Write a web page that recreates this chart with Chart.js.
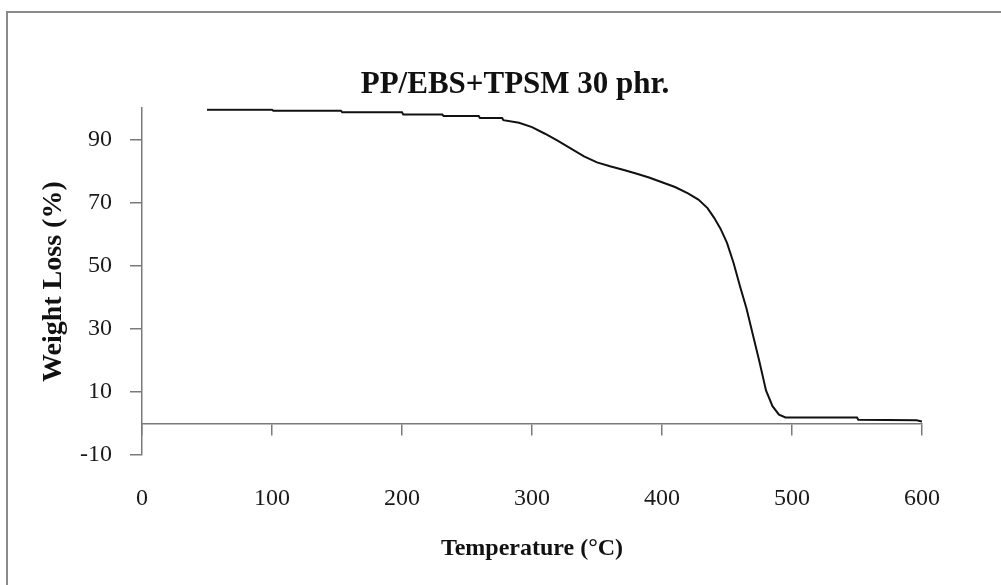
<!DOCTYPE html>
<html>
<head>
<meta charset="utf-8">
<script src="https://cdn.jsdelivr.net/npm/chart.js@4.4.1/dist/chart.umd.min.js"></script>
<style>
  html, body { margin: 0; padding: 0; background: #ffffff; }
  #wrap { position: relative; width: 1001px; height: 585px; }
  #frame { position: absolute; left: 6px; top: 11px; right: 0; bottom: 0;
           border-top: 2px solid #8a8a8a; border-left: 2px solid #8a8a8a; pointer-events: none; }
  canvas { position: absolute; left: 0; top: 0; }
</style>
</head>
<body>
<div id="wrap">
  <canvas id="c" width="1001" height="585"></canvas>
  <div id="frame"></div>
</div>
<script>
// ---- data ----
const chartTitle = "PP/EBS+TPSM 30 phr.";
const xTitle = "Temperature (\u00B0C)";
const yTitle = "Weight Loss (%)";
const xTicks = [0, 100, 200, 300, 400, 500, 600];
const yTicks = [-10, 10, 30, 50, 70, 90];
const temperature = [50, 100, 101, 153, 154, 200, 201, 231, 232, 259, 260, 277, 278, 290, 300, 310, 320, 330, 340, 350, 360, 370, 380, 390, 400, 410, 420, 428, 435, 440, 445, 450, 455, 460, 465, 470, 475, 480, 485, 490, 495, 550, 551, 596, 600];
const weightLoss  = [99.5, 99.5, 99.2, 99.2, 98.7, 98.7, 98.0, 98.0, 97.5, 97.5, 96.9, 96.9, 96.2, 95.4, 94.0, 91.9, 89.6, 87.2, 84.7, 82.8, 81.6, 80.5, 79.3, 78.0, 76.5, 75.0, 73.0, 71.0, 68.3, 65.3, 61.8, 57.3, 51.0, 43.5, 36.5, 28.0, 19.5, 10.5, 5.5, 2.8, 1.9, 1.9, 1.2, 1.0, 0.6];

const points = temperature.map((t, i) => ({ x: t, y: weightLoss[i] }));
const serif = "'Liberation Serif', 'Times New Roman', serif";
const axisGray = '#7a7a7a';

new Chart(document.getElementById('c'), {
  type: 'scatter',
  data: {
    datasets: [{
      data: points,
      showLine: true,
      borderColor: '#111111',
      borderWidth: 2,
      pointRadius: 0,
      tension: 0,
      xAxisID: 'x',
      yAxisID: 'y'
    }]
  },
  options: {
    responsive: false,
    animation: false,
    devicePixelRatio: 1,
    layout: { padding: { left: 29, right: 0, top: 0, bottom: 0 } },
    plugins: {
      legend: { display: false },
      tooltip: { enabled: false },
      title: {
        display: true,
        text: chartTitle,
        color: '#111111',
        font: { family: serif, size: 31, weight: 'bold' },
        padding: { top: 66, bottom: 5 }
      }
    },
    scales: {
      x: {
        type: 'linear',
        position: { y: 0 },
        min: 0, max: 600,
        afterBuildTicks: (s) => { s.ticks = xTicks.map(v => ({ value: v })); },
        ticks: { display: false },
        grid: { drawOnChartArea: false, drawTicks: true, tickLength: 11, color: axisGray, lineWidth: 1.5 },
        border: { display: true, color: axisGray, width: 1.5 }
      },
      x2: {
        type: 'linear',
        axis: 'x',
        position: 'bottom',
        min: 0, max: 600,
        afterBuildTicks: (s) => { s.ticks = xTicks.map(v => ({ value: v })); },
        afterFit: (s) => { s.height = 130; },
        ticks: { color: '#1a1a1a', font: { family: serif, size: 24 }, padding: 29, maxRotation: 0 },
        grid: { display: false, drawTicks: false },
        border: { display: false },
        title: {
          display: true, text: xTitle, color: '#111111',
          font: { family: serif, size: 24, weight: 'bold' },
          padding: { top: 0, bottom: 22 }
        }
      },
      y: {
        type: 'linear',
        position: 'left',
        min: -10, max: 100,
        afterBuildTicks: (s) => { s.ticks = yTicks.map(v => ({ value: v })); },
        afterFit: (s) => { s.width = 113; },
        ticks: { color: '#1a1a1a', font: { family: serif, size: 24 }, padding: 18 },
        grid: { drawOnChartArea: false, drawTicks: true, tickLength: 12, color: axisGray, lineWidth: 1.5 },
        border: { display: true, color: axisGray, width: 1.5 },
        title: {
          display: true, text: yTitle, color: '#111111',
          font: { family: serif, size: 28, weight: 'bold' },
          padding: { top: 8, bottom: 0 }
        }
      },
      yRight: {
        type: 'linear',
        axis: 'y',
        position: 'right',
        min: -10, max: 100,
        afterFit: (s) => { s.width = 79; },
        ticks: { display: false },
        grid: { display: false, drawTicks: false },
        border: { display: false }
      }
    }
  }
});
</script>
</body>
</html>
